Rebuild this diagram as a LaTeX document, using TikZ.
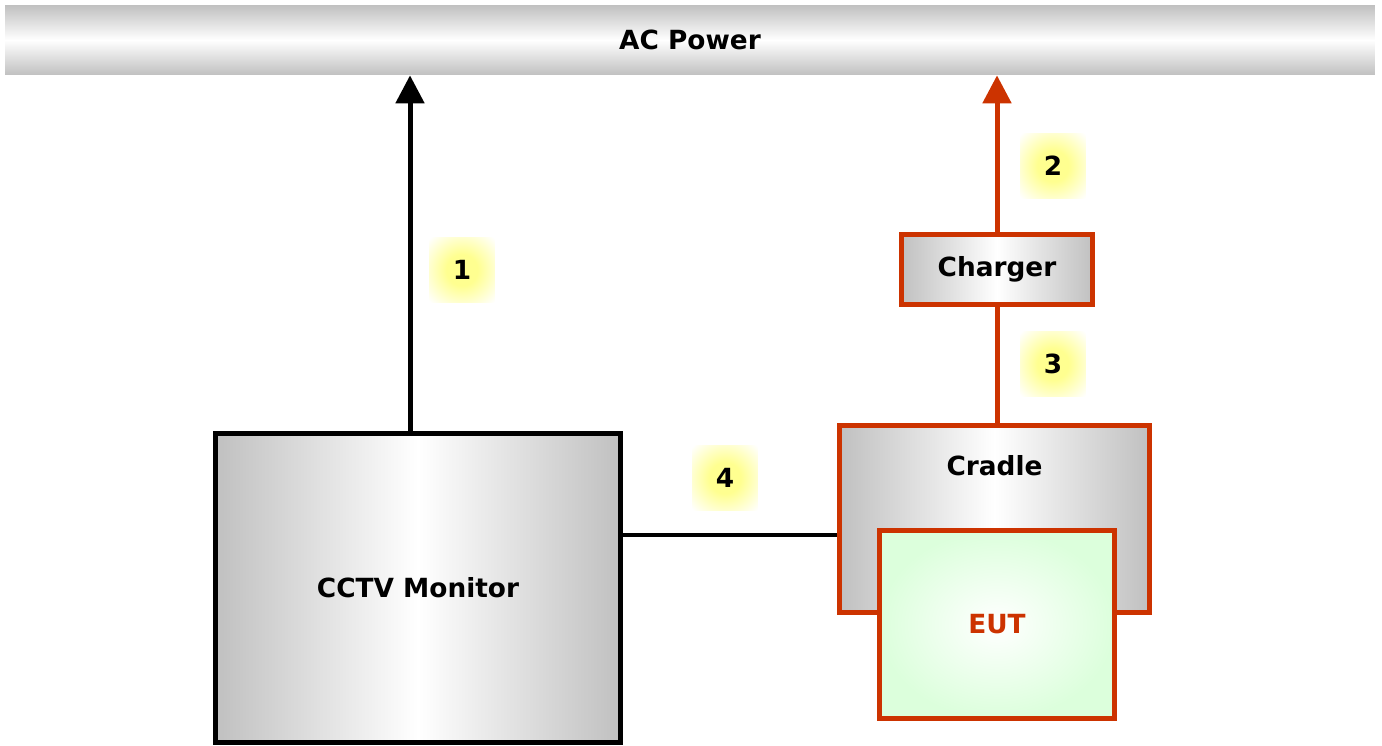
\documentclass[tikz,border=0pt]{standalone}
\usepackage{fontspec}
\setmainfont{DejaVu Sans}
\usetikzlibrary{arrows.meta,positioning,calc}
\definecolor{Rust}{HTML}{CC3300}
\definecolor{Silver}{HTML}{C0C0C0}
\definecolor{PaleGreen}{HTML}{DCFFDC}
\definecolor{Glow}{HTML}{FFFF90}
\pgfdeclareradialshading{glow}{\pgfpoint{0bp}{0bp}}{color(0bp)=(Glow); color(12bp)=(Glow); color(35bp)=(white); color(50bp)=(white)}

\begin{document}
\begin{tikzpicture}[
  x=0.02cm, y=-0.02cm,
  font=\fontsize{15}{18}\selectfont\bfseries,
  bar/.style={
    minimum width=27.4cm,
    minimum height=1.4cm,
    inner sep=0pt,
    top color=Silver,
    bottom color=Silver,
    middle color=white
  },
  box/.style={
    draw=black,
    line width=0.1cm,
    inner sep=0pt,
    left color=Silver,
    right color=Silver,
    middle color=white
  },
  redbox/.style={
    box,
    draw=Rust
  },
  eutbox/.style={
    draw=Rust,
    line width=0.1cm,
    inner sep=0pt,
    inner color=white,
    outer color=PaleGreen,
    text=Rust
  },
  tag/.style={minimum size=1.3cm,inner sep=0pt,shading=glow},
  arrow/.style={-{Triangle[length=0.56cm,width=0.56cm]},line width=0.1cm},
  link/.style={line width=0.1cm}
]
\useasboundingbox (0,0) rectangle (1382,746);

\node[bar] (acpower) at (690,40) {AC Power};
\node[box,minimum width=8.12cm,minimum height=6.2cm] (monitor) at (418,588) {CCTV Monitor};
\node[redbox,minimum width=6.22cm,minimum height=3.76cm,
  label={[anchor=center,yshift=-0.86cm]north:Cradle}] (cradle) at (994.5,519) {};
\node[eutbox,minimum width=4.72cm,minimum height=3.78cm] (eut) at (997,624.5) {EUT};
\node[redbox,minimum width=3.84cm,minimum height=1.42cm] (charger) at (997,269.5) {Charger};

\node[tag] (n1) at (462,270) {1};
\node[tag] (n2) at (1053,166) {2};
\node[tag] (n3) at (1053,364) {3};
\node[tag] (n4) at (725,478) {4};

\draw[arrow] ([xshift=-0.16cm]monitor.north) -- ([xshift=-0.16cm]monitor.north |- acpower.south);
\draw[arrow,Rust] (charger.north) -- (charger.north |- acpower.south);
\draw[link,Rust] (charger.south) -- (charger.south |- cradle.north);
\draw[link] ([yshift=-0.32cm]cradle.west) -- ([yshift=-0.32cm]cradle.west -| monitor.east);
\end{tikzpicture}
\end{document}
